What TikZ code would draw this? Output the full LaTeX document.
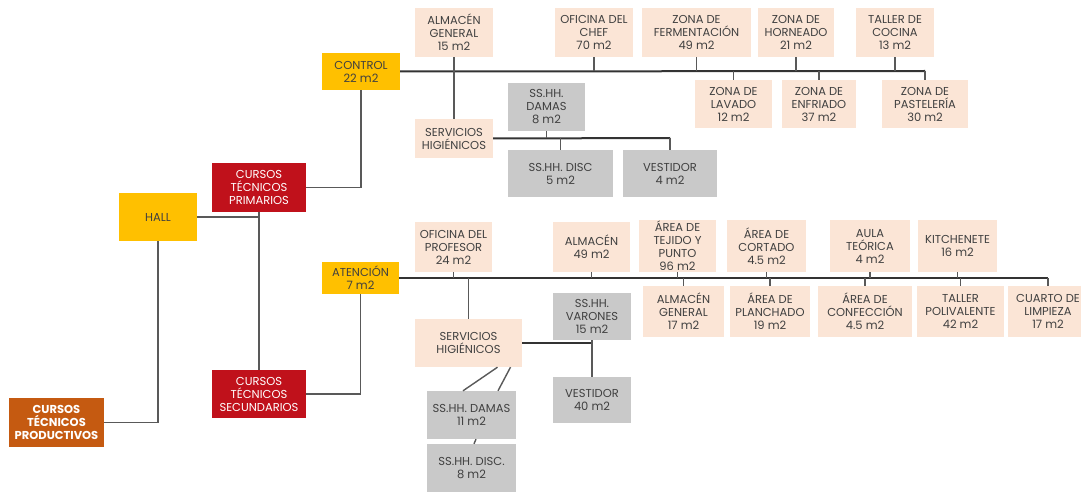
\documentclass[tikz,border=0pt]{standalone}
\usepackage{fontspec}
\setmainfont{Poppins}
\definecolor{peach}{HTML}{FBE5D6}
\definecolor{greybox}{HTML}{C9C9C9}
\definecolor{yel}{HTML}{FFC000}
\definecolor{redbox}{HTML}{C0111B}
\definecolor{brownbox}{HTML}{C55A11}
\definecolor{txt}{HTML}{404040}
\definecolor{lnc}{HTML}{595959}
\definecolor{trunk}{HTML}{333333}
\newcommand{\rb}[7]{\node[#6, minimum width={(#4-#2)*1pt}, minimum height={(#5-#3)*1pt}] (#1) at ({(#2+#4)/2},{(#3+#5)/2}) {#7};}
\tikzset{
  base/.style={inner sep=0pt, align=center, text=txt, font=\fontsize{11.5}{13}\selectfont},
  pch/.style={base, fill=peach},
  gry/.style={base, fill=greybox},
  ylw/.style={base, fill=yel},
  rd/.style={base, fill=redbox, text=white},
  brn/.style={base, fill=brownbox, text=white, font=\fontsize{11.5}{13}\selectfont\bfseries},
  ln/.style={draw=lnc, line width=1.4pt},
  tl/.style={draw=trunk, line width=2pt},
}
\begin{document}
\begin{tikzpicture}[x=1pt, y=-1pt]
\clip (0,0) rectangle (1081,492);
\fill[white] (0,0) rectangle (1081,492);
% left part
\rb{prod}{9}{398}{104}{447}{brn}{CURSOS\\TÉCNICOS\\PRODUCTIVOS}
\rb{hall}{119}{193}{197}{241}{ylw}{HALL}
\rb{prim}{212}{163}{306}{212}{rd}{CURSOS\\TÉCNICOS\\PRIMARIOS}
\rb{secu}{212}{370}{306}{418}{rd}{CURSOS\\TÉCNICOS\\SECUNDARIOS}
\rb{control}{322}{53}{400}{90}{ylw}{CONTROL\\22 m2}
\rb{aten}{322}{262}{399}{294}{ylw}{ATENCIÓN\\7 m2}
% top group
\rb{almg}{415}{8}{493}{57}{pch}{ALMACÉN\\GENERAL\\15 m2}
\rb{chef}{555}{8}{633}{57}{pch}{OFICINA DEL\\CHEF\\70 m2}
\rb{ferm}{642}{8}{751}{57}{pch}{ZONA DE\\FERMENTACIÓN\\49 m2}
\rb{horn}{758}{8}{834}{57}{pch}{ZONA DE\\HORNEADO\\21 m2}
\rb{tall}{856}{8}{934}{57}{pch}{TALLER DE\\COCINA\\13 m2}
\rb{lav}{695}{80}{772}{128}{pch}{ZONA DE\\LAVADO\\12 m2}
\rb{enf}{782}{80}{856}{128}{pch}{ZONA DE\\ENFRIADO\\37 m2}
\rb{past}{882}{80}{968}{128}{pch}{ZONA DE\\PASTELERÍA\\30 m2}
\rb{servT}{415}{119}{493}{158}{pch}{SERVICIOS\\HIGIÉNICOS}
\rb{dam8}{508}{83}{585}{131}{gry}{SS.HH.\\DAMAS\\8 m2}
\rb{disc5}{508}{150}{613}{197}{gry}{SS.HH. DISC\\5 m2}
\rb{vest4}{623}{150}{717}{197}{gry}{VESTIDOR\\4 m2}
% bottom group
\rb{prof}{415}{222}{492}{272}{pch}{OFICINA DEL\\PROFESOR\\24 m2}
\rb{alm49}{553}{222}{630}{272}{pch}{ALMACÉN\\49 m2}
\rb{tej}{639}{220}{716}{272}{pch}{ÁREA DE\\TEJIDO Y\\PUNTO\\96 m2}
\rb{cort}{727}{220}{806}{272}{pch}{ÁREA DE\\CORTADO\\4.5 m2}
\rb{aula}{830}{220}{910}{272}{pch}{AULA\\TEÓRICA\\4 m2}
\rb{kitch}{918}{220}{997}{272}{pch}{KITCHENETE\\16 m2}
\rb{almg17}{643}{286}{724}{337}{pch}{ALMACÉN\\GENERAL\\17 m2}
\rb{planch}{730}{286}{810}{337}{pch}{ÁREA DE\\PLANCHADO\\19 m2}
\rb{conf}{818}{286}{912}{337}{pch}{ÁREA DE\\CONFECCIÓN\\4.5 m2}
\rb{tpol}{917}{286}{1004}{337}{pch}{TALLER\\POLIVALENTE\\42 m2}
\rb{cuarto}{1008}{286}{1088}{337}{pch}{CUARTO DE\\LIMPIEZA\\17 m2}
\rb{servB}{415}{319}{522}{367}{pch}{SERVICIOS\\HIGIÉNICOS}
\rb{var}{553}{293}{631}{340}{gry}{SS.HH.\\VARONES\\15 m2}
\rb{vest40}{553}{377}{631}{423}{gry}{VESTIDOR\\40 m2}
\rb{dam11}{427}{391}{516}{439}{gry}{SS.HH. DAMAS\\11 m2}
\rb{disc8}{427}{444}{516}{492}{gry}{SS.HH. DISC.\\8 m2}
% coordinates
\coordinate (cend) at (925,71);
\coordinate (aend) at (1048,278);
\coordinate (hj) at (260,217);
\coordinate (sj) at (593,343);
\coordinate (tj) at (670,138);
% left connectors
\draw[ln] (hall.east) -- (hj);
\draw[ln] (prim.south) -- (secu.north);
\draw[ln] (hall.south) |- (prod.east);
\draw[ln] (control.south) |- (prim.east);
\draw[ln] (aten.south) |- (secu.east);
% control trunk
\draw[tl] (control.east) -- (cend);
\draw[ln] (cend) -- (past.north);
\draw[ln] (almg.south) -- (servT.north);
\draw[ln] (chef.south) -- (chef.south |- cend);
\draw[ln] (ferm.south) -- (ferm.south |- cend);
\draw[ln] (horn.south) -- (horn.south |- cend);
\draw[ln] (tall.south) -- (tall.south |- cend);
\draw[ln] (lav.north) -- (lav.north |- cend);
\draw[ln] (enf.north) -- (enf.north |- cend);
\draw[tl] (servT.east) -- (tj);
\draw[ln] (tj) -- (vest4.north);
\draw[ln] (dam8.south) -- (dam8.south |- tj);
\draw[ln] (disc5.north) -- (disc5.north |- tj);
% atencion trunk
\draw[tl] (aten.east) -- (aend);
\draw[ln] (aend) -- (cuarto.north);
\draw[ln] (prof.south) -- (prof.south |- aend);
\draw[ln] (servB.north) -- (servB.north |- aend);
\draw[ln] (alm49.south) -- (alm49.south |- aend);
\draw[ln] (tej.south) -- (tej.south |- aend);
\draw[ln] (cort.south) -- (cort.south |- aend);
\draw[ln] (aula.south) -- (aula.south |- aend);
\draw[ln] (kitch.south) -- (kitch.south |- aend);
\draw[ln] (almg17.north) -- (almg17.north |- aend);
\draw[ln] (planch.north) -- (planch.north |- aend);
\draw[ln] (conf.north) -- (conf.north |- aend);
\draw[ln] (tpol.north) -- (tpol.north |- aend);
\draw[tl] (servB.east) -- (sj);
\draw[ln] (var.south) -- (vest40.north);
\draw[ln] ([xshift=29pt]servB.south) -- ([xshift=-8.5pt]dam11.north);
\draw[ln] ([xshift=42pt]servB.south) -- ([xshift=26.5pt]dam11.north);
\draw[ln] ([xshift=4.5pt]dam11.south) -- ([xshift=2.5pt]disc8.north);
\end{tikzpicture}
\end{document}
